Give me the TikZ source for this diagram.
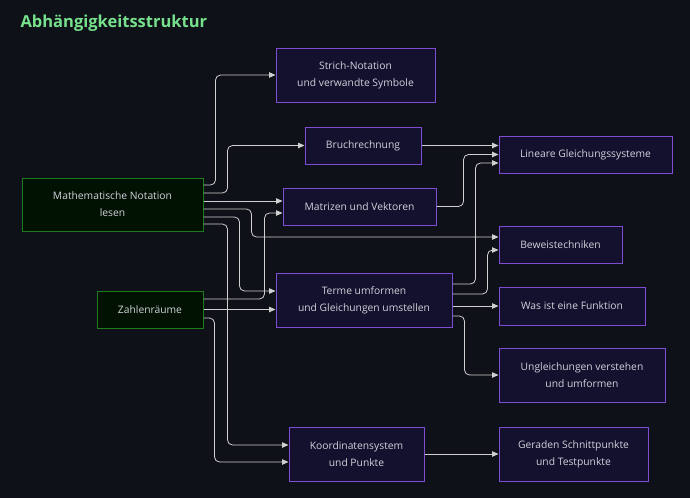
\documentclass[tikz,border=0pt]{standalone}
\usepackage{fontspec}
\setmainfont{Open Sans}
\usetikzlibrary{arrows.meta}
\definecolor{bgdark}{HTML}{0E1117}
\definecolor{boxfill}{HTML}{13112E}
\definecolor{boxline}{HTML}{7D4FD0}
\definecolor{rootfill}{HTML}{021202}
\definecolor{rootline}{HTML}{1D7A1D}
\definecolor{labeltext}{HTML}{D2D2DC}
\definecolor{linkgrey}{HTML}{D0D0D0}
\definecolor{titlegreen}{HTML}{76E08C}
\tikzset{
	topic/.style={draw=boxline, fill=boxfill, line width=1pt, text=labeltext, align=center, inner sep=0pt,
		font=\fontsize{10.3}{17}\selectfont},
	root/.style={topic, draw=rootline, fill=rootfill},
	link/.style={draw=linkgrey, line width=0.8pt, rounded corners=5pt, -{Triangle[length=6.5pt,width=5.5pt]}}
}
\begin{document}
\begin{tikzpicture}[x=1pt, y=-1pt]
		\useasboundingbox[fill=bgdark] (0,0) rectangle (690,498);
		\node[anchor=base west, text=titlegreen, font=\fontsize{16.5}{18}\selectfont\bfseries] (title) at (17,27) {Abhängigkeitsstruktur};
		\node[root, minimum width=181pt, minimum height=53pt] (math) at (112.5,204.5) {Mathematische Notation\\lesen};
		\node[root, minimum width=106pt, minimum height=37pt] (zahlen) at (150,309.5) {Zahlenräume};
		\node[topic, minimum width=159pt, minimum height=54pt] (strich) at (355.5,75) {Strich-Notation\\und verwandte Symbole};
		\node[topic, minimum width=116pt, minimum height=37pt] (bruch) at (363,145.5) {Bruchrechnung};
		\node[topic, minimum width=153pt, minimum height=37pt] (matrizen) at (359.5,206.5) {Matrizen und Vektoren};
		\node[topic, minimum width=176pt, minimum height=54pt] (terme) at (364,300) {Terme umformen\\und Gleichungen umstellen};
		\node[topic, minimum width=135pt, minimum height=54pt] (koord) at (356.5,454) {Koordinatensystem\\und Punkte};
		\node[topic, minimum width=173pt, minimum height=37pt] (lgs) at (585.5,154.5) {Lineare Gleichungssysteme};
		\node[topic, minimum width=123pt, minimum height=37pt] (beweis) at (560.5,244.5) {Beweistechniken};
		\node[topic, minimum width=146pt, minimum height=38pt] (funktion) at (572,306) {Was ist eine Funktion};
		\node[topic, minimum width=166pt, minimum height=54pt] (ungl) at (582,375) {Ungleichungen verstehen\\und umformen};
		\node[topic, minimum width=149pt, minimum height=54pt] (geraden) at (573.5,454) {Geraden Schnittpunkte\\und Testpunkte};

		\draw[link] ([yshift=19.5pt]math.east) -- ++(12,0) |- (strich);
		\draw[link] ([yshift=11.5pt]math.east) -- ++(24,0) |- (bruch);
		\draw[link] ([yshift=3.5pt]math.east) coordinate (m3) -- (m3 -| matrizen.west);
		\draw[link] ([yshift=-4.5pt]math.east) -- ++(48,0) |- ([yshift=7.5pt]beweis.west);
		\draw[link] ([yshift=-12.5pt]math.east) -- ++(36,0) |- ([yshift=9pt]terme.west);
		\draw[link] ([yshift=-19.5pt]math.east) -- ++(24,0) |- ([yshift=9pt]koord.west);
		\draw[link] ([yshift=10.5pt]zahlen.east) -- ++(61,0) |- ([yshift=-6.5pt]matrizen.west);
		\draw[link] (zahlen.east) coordinate (z2) -- (z2 -| terme.west);
		\draw[link] ([yshift=-8.5pt]zahlen.east) -- ++(11,0) |- ([yshift=-8pt]koord.west);
		\draw[link] (bruch.east) coordinate (b1) -- (b1 -| lgs.west);
		\draw[link] (matrizen.east) -- ++(27,0) |- (lgs);
		\draw[link] ([yshift=16pt]terme.east) -- ++(23,0) |- ([yshift=-8.5pt]lgs.west);
		\draw[link] ([yshift=6pt]terme.east) -- ++(35,0) |- ([yshift=-5.5pt]beweis.west);
		\draw[link] ([yshift=-6pt]terme.east) coordinate (t3) -- (t3 -| funktion.west);
		\draw[link] ([yshift=-16pt]terme.east) -- ++(12,0) |- (ungl);
		\draw[link] (koord.east) coordinate (k1) -- (k1 -| geraden.west);
	\end{tikzpicture}
\end{document}
